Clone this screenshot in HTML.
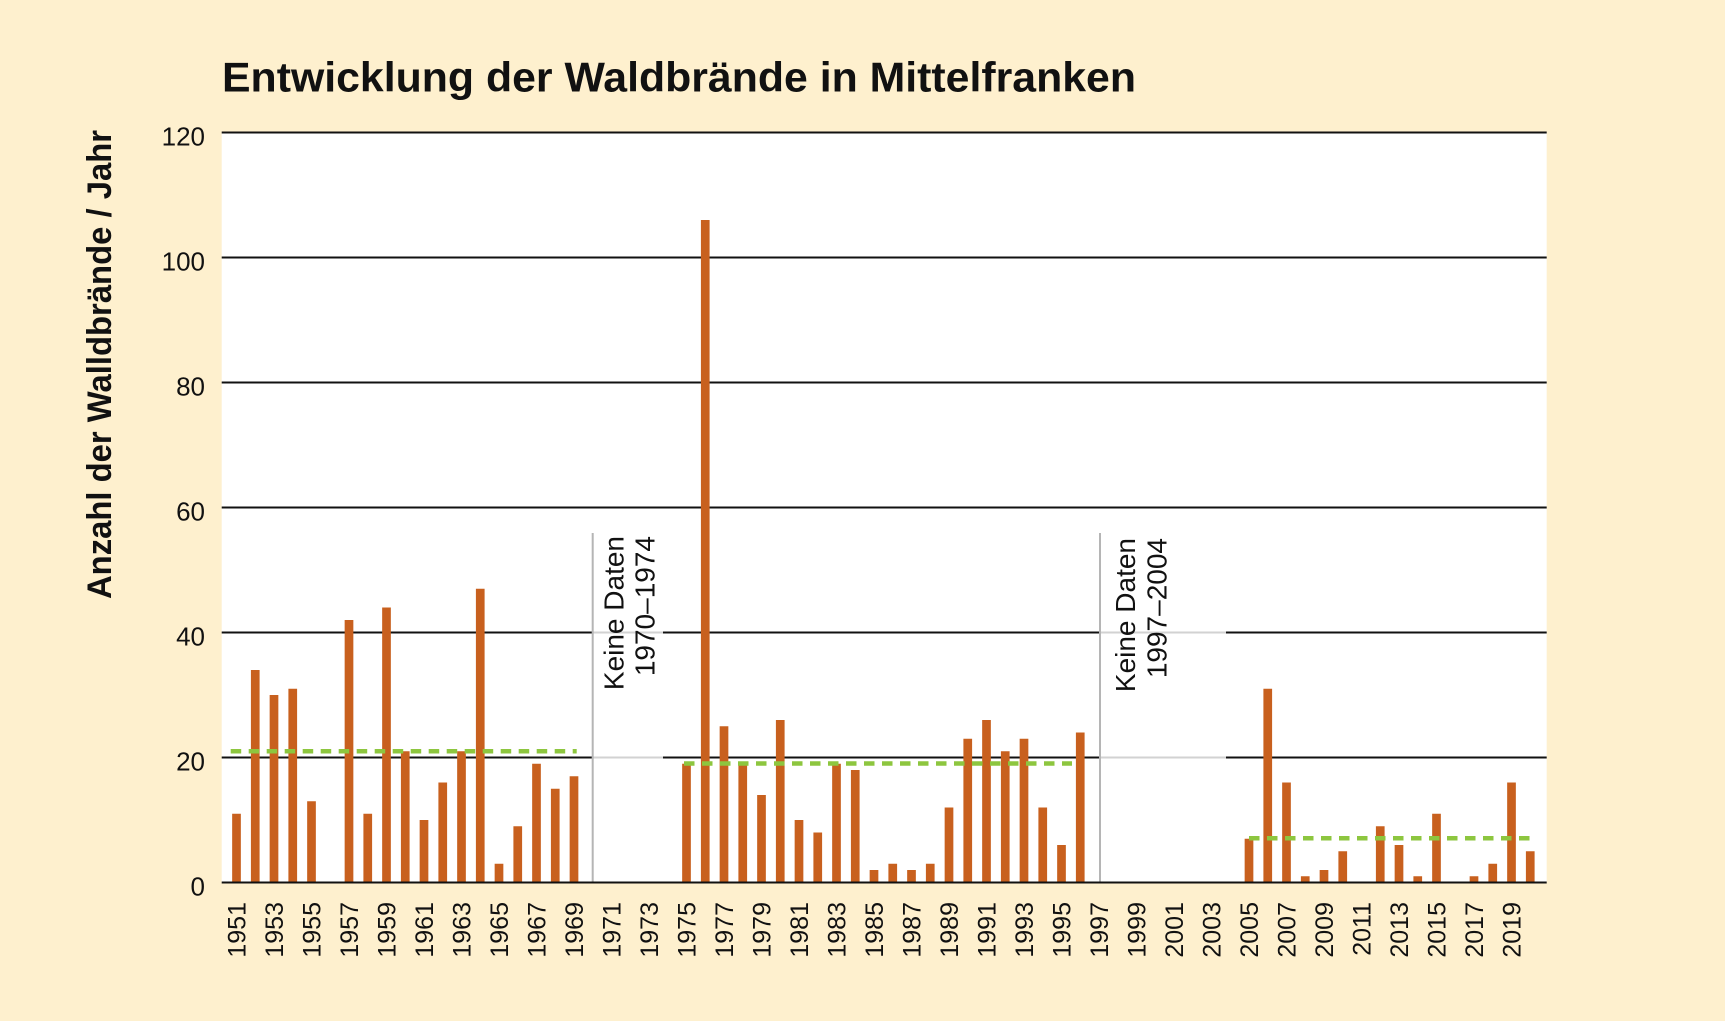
<!DOCTYPE html>
<html>
<head>
<meta charset="utf-8">
<style>
html,body{margin:0;padding:0;background:#fef0ce;}
svg{display:block;}
text{font-family:"Liberation Sans","DejaVu Sans",sans-serif;fill:#111;}
</style>
</head>
<body>
<svg width="1725" height="1021" viewBox="0 0 1725 1021" xmlns="http://www.w3.org/2000/svg">
<rect x="0" y="0" width="1725" height="1021" fill="#fef0ce"/>
<!-- Title -->
<text x="222" y="91.5" font-size="42" font-weight="bold" textLength="914" lengthAdjust="spacingAndGlyphs">Entwicklung der Waldbrände in Mittelfranken</text>
<!-- Y axis title -->
<text transform="translate(111,599) rotate(-90)" font-size="34" font-weight="bold" textLength="469" lengthAdjust="spacingAndGlyphs">Anzahl der Walldbrände / Jahr</text>

<!-- plot area -->
<rect x="221.7" y="132.5" width="1325" height="750" fill="#ffffff"/>

<!-- gridlines -->
<g stroke="#111" stroke-width="2">
<line x1="221.7" y1="132.5" x2="1546.7" y2="132.5"/>
<line x1="221.7" y1="257.5" x2="1546.7" y2="257.5"/>
<line x1="221.7" y1="382.5" x2="1546.7" y2="382.5"/>
<line x1="221.7" y1="507.5" x2="1546.7" y2="507.5"/>
<line x1="221.7" y1="632.5" x2="592.7" y2="632.5"/>
<line x1="663" y1="632.5" x2="1100" y2="632.5"/>
<line x1="1226" y1="632.5" x2="1546.7" y2="632.5"/>
<line x1="221.7" y1="757.5" x2="592.7" y2="757.5"/>
<line x1="663" y1="757.5" x2="1100" y2="757.5"/>
<line x1="1226" y1="757.5" x2="1546.7" y2="757.5"/>
</g>
<g stroke="#d2d2d2" stroke-width="2">
<line x1="592.7" y1="632.5" x2="663" y2="632.5"/>
<line x1="1100" y1="632.5" x2="1226" y2="632.5"/>
<line x1="592.7" y1="757.5" x2="663" y2="757.5"/>
<line x1="1100" y1="757.5" x2="1226" y2="757.5"/>
</g>
<!-- gap separators -->
<g stroke="#b5b5b5" stroke-width="2">
<line x1="592.7" y1="533" x2="592.7" y2="882"/>
<line x1="1100" y1="533" x2="1100" y2="882"/>
</g>
<!-- Keine Daten labels -->
<text transform="translate(623.5,536) rotate(-90)" font-size="28" text-anchor="end">Keine Daten</text>
<text transform="translate(654.5,536) rotate(-90)" font-size="28" text-anchor="end">1970–1974</text>
<text transform="translate(1135,538) rotate(-90)" font-size="28" text-anchor="end">Keine Daten</text>
<text transform="translate(1166.5,538) rotate(-90)" font-size="28" text-anchor="end">1997–2004</text>

<!-- bars -->
<g fill="#c8601e">
<rect x="232.15" y="813.75" width="8.7" height="68.75"/>
<rect x="250.9" y="670" width="8.7" height="212.5"/>
<rect x="269.65" y="695" width="8.7" height="187.5"/>
<rect x="288.4" y="688.75" width="8.7" height="193.75"/>
<rect x="307.15" y="801.25" width="8.7" height="81.25"/>
<rect x="344.65" y="620" width="8.7" height="262.5"/>
<rect x="363.4" y="813.75" width="8.7" height="68.75"/>
<rect x="382.15" y="607.5" width="8.7" height="275"/>
<rect x="400.9" y="751.25" width="8.7" height="131.25"/>
<rect x="419.65" y="820" width="8.7" height="62.5"/>
<rect x="438.4" y="782.5" width="8.7" height="100"/>
<rect x="457.15" y="751.25" width="8.7" height="131.25"/>
<rect x="475.9" y="588.75" width="8.7" height="293.75"/>
<rect x="494.65" y="863.75" width="8.7" height="18.75"/>
<rect x="513.4" y="826.25" width="8.7" height="56.25"/>
<rect x="532.15" y="763.75" width="8.7" height="118.75"/>
<rect x="550.9" y="788.75" width="8.7" height="93.75"/>
<rect x="569.65" y="776.25" width="8.7" height="106.25"/>

<rect x="682.15" y="763.75" width="8.7" height="118.75"/>
<rect x="700.9" y="220" width="8.7" height="662.5"/>
<rect x="719.65" y="726.25" width="8.7" height="156.25"/>
<rect x="738.4" y="763.75" width="8.7" height="118.75"/>
<rect x="757.15" y="795" width="8.7" height="87.5"/>
<rect x="775.9" y="720" width="8.7" height="162.5"/>
<rect x="794.65" y="820" width="8.7" height="62.5"/>
<rect x="813.4" y="832.5" width="8.7" height="50"/>
<rect x="832.15" y="763.75" width="8.7" height="118.75"/>
<rect x="850.9" y="770" width="8.7" height="112.5"/>
<rect x="869.65" y="870" width="8.7" height="12.5"/>
<rect x="888.4" y="863.75" width="8.7" height="18.75"/>
<rect x="907.15" y="870" width="8.7" height="12.5"/>
<rect x="925.9" y="863.75" width="8.7" height="18.75"/>
<rect x="944.65" y="807.5" width="8.7" height="75"/>
<rect x="963.4" y="738.75" width="8.7" height="143.75"/>
<rect x="982.15" y="720" width="8.7" height="162.5"/>
<rect x="1000.9" y="751.25" width="8.7" height="131.25"/>
<rect x="1019.65" y="738.75" width="8.7" height="143.75"/>
<rect x="1038.4" y="807.5" width="8.7" height="75"/>
<rect x="1057.15" y="845" width="8.7" height="37.5"/>
<rect x="1075.9" y="732.5" width="8.7" height="150"/>

<rect x="1244.65" y="838.75" width="8.7" height="43.75"/>
<rect x="1263.4" y="688.75" width="8.7" height="193.75"/>
<rect x="1282.15" y="782.5" width="8.7" height="100"/>
<rect x="1300.9" y="876.25" width="8.7" height="6.25"/>
<rect x="1319.65" y="870" width="8.7" height="12.5"/>
<rect x="1338.4" y="851.25" width="8.7" height="31.25"/>
<rect x="1375.9" y="826.25" width="8.7" height="56.25"/>
<rect x="1394.65" y="845" width="8.7" height="37.5"/>
<rect x="1413.4" y="876.25" width="8.7" height="6.25"/>
<rect x="1432.15" y="813.75" width="8.7" height="68.75"/>
<rect x="1469.65" y="876.25" width="8.7" height="6.25"/>
<rect x="1488.4" y="863.75" width="8.7" height="18.75"/>
<rect x="1507.15" y="782.5" width="8.7" height="100"/>
<rect x="1525.9" y="851.25" width="8.7" height="31.25"/>
</g>

<!-- mean lines -->
<g stroke="#8dc63f" stroke-width="4.5" stroke-dasharray="10.5 7.5" fill="none">
<line x1="230.7" y1="751.25" x2="576.7" y2="751.25"/>
<line x1="684" y1="763.5" x2="1072" y2="763.5"/>
<line x1="1249" y1="838.3" x2="1530" y2="838.3"/>
</g>

<!-- zero line -->
<line x1="221.7" y1="882.5" x2="1546.7" y2="882.5" stroke="#111" stroke-width="2"/>

<!-- y tick labels -->
<g font-size="26" text-anchor="end">
<text x="205" y="145.5">120</text>
<text x="205" y="270.5">100</text>
<text x="205" y="395.5">80</text>
<text x="205" y="520.5">60</text>
<text x="205" y="645.5">40</text>
<text x="205" y="770.5">20</text>
<text x="205" y="895.5">0</text>
</g>

<!-- x tick labels -->
<g font-size="25" text-anchor="end">
<text transform="translate(245.5,902) rotate(-90)">1951</text>
<text transform="translate(283,902) rotate(-90)">1953</text>
<text transform="translate(320.5,902) rotate(-90)">1955</text>
<text transform="translate(358,902) rotate(-90)">1957</text>
<text transform="translate(395.5,902) rotate(-90)">1959</text>
<text transform="translate(433,902) rotate(-90)">1961</text>
<text transform="translate(470.5,902) rotate(-90)">1963</text>
<text transform="translate(508,902) rotate(-90)">1965</text>
<text transform="translate(545.5,902) rotate(-90)">1967</text>
<text transform="translate(583,902) rotate(-90)">1969</text>
<text transform="translate(620.5,902) rotate(-90)">1971</text>
<text transform="translate(658,902) rotate(-90)">1973</text>
<text transform="translate(695.5,902) rotate(-90)">1975</text>
<text transform="translate(733,902) rotate(-90)">1977</text>
<text transform="translate(770.5,902) rotate(-90)">1979</text>
<text transform="translate(808,902) rotate(-90)">1981</text>
<text transform="translate(845.5,902) rotate(-90)">1983</text>
<text transform="translate(883,902) rotate(-90)">1985</text>
<text transform="translate(920.5,902) rotate(-90)">1987</text>
<text transform="translate(958,902) rotate(-90)">1989</text>
<text transform="translate(995.5,902) rotate(-90)">1991</text>
<text transform="translate(1033,902) rotate(-90)">1993</text>
<text transform="translate(1070.5,902) rotate(-90)">1995</text>
<text transform="translate(1108,902) rotate(-90)">1997</text>
<text transform="translate(1145.5,902) rotate(-90)">1999</text>
<text transform="translate(1183,902) rotate(-90)">2001</text>
<text transform="translate(1220.5,902) rotate(-90)">2003</text>
<text transform="translate(1258,902) rotate(-90)">2005</text>
<text transform="translate(1295.5,902) rotate(-90)">2007</text>
<text transform="translate(1333,902) rotate(-90)">2009</text>
<text transform="translate(1370.5,902) rotate(-90)">2011</text>
<text transform="translate(1408,902) rotate(-90)">2013</text>
<text transform="translate(1445.5,902) rotate(-90)">2015</text>
<text transform="translate(1483,902) rotate(-90)">2017</text>
<text transform="translate(1520.5,902) rotate(-90)">2019</text>
</g>
</svg>
</body>
</html>
